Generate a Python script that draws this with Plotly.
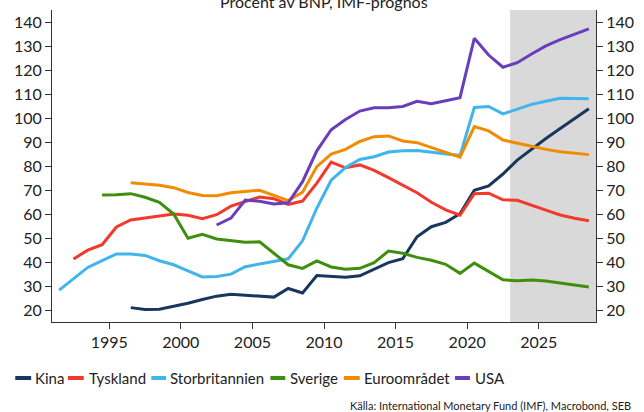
import plotly.graph_objects as go

# ---------------- data (percent of GDP, IMF forecast) ----------------
kina_start = 1996
kina = [21.0, 20.2, 20.3, 21.4, 22.8, 24.4, 25.8, 26.6, 26.2, 26.1,
        25.4, 29.0, 27.1, 34.4, 33.9, 33.7, 34.3, 36.9, 39.8, 41.4,
        50.6, 54.8, 56.6, 60.2, 70.0, 71.8, 76.8, 82.6, 87.2, 91.6,
        95.8, 100.0, 104.1]

tyskland_start = 1992
tyskland = [41.3, 45.0, 47.3, 54.7, 57.6, 58.6, 59.3, 60.1, 59.6, 58.1,
            59.8, 63.4, 65.2, 67.2, 66.5, 64.1, 65.5, 73.0, 81.8, 79.4,
            80.6, 78.3, 75.3, 72.0, 69.0, 65.0, 61.8, 59.6, 68.6, 68.8,
            66.0, 65.8, 63.9, 61.7, 59.7, 58.3, 57.3]

storbritannien_start = 1991
storbritannien = [28.3, 33.0, 37.8, 40.6, 43.4, 43.4, 42.8, 40.6, 38.9, 36.4,
                  33.8, 34.0, 35.0, 38.1, 39.2, 40.3, 41.4, 48.9, 62.6, 74.2,
                  79.5, 82.9, 84.0, 86.0, 86.5, 86.6, 85.9, 85.3, 84.5, 104.6,
                  105.0, 101.9, 104.0, 105.9, 107.2, 108.4, 108.3, 108.2]

sverige_start = 1994
sverige = [68.0, 68.1, 68.6, 67.1, 65.0, 60.1, 50.0, 51.6, 49.7, 49.1,
           48.3, 48.5, 43.8, 38.9, 37.4, 40.5, 38.0, 37.0, 37.4, 39.8,
           44.6, 43.7, 42.0, 40.8, 39.1, 35.3, 39.6, 36.0, 32.6, 32.2,
           32.5, 32.1, 31.3, 30.5, 29.6]

euro_start = 1996
euroomradet = [73.2, 72.6, 72.1, 71.1, 69.1, 67.8, 67.7, 69.0, 69.4, 70.0,
               67.9, 65.7, 69.2, 79.9, 85.1, 87.1, 90.4, 92.4, 92.7, 90.6,
               89.9, 87.8, 85.7, 83.8, 96.6, 94.8, 91.0, 89.6, 88.2, 87.1,
               86.1, 85.4, 84.9]

usa_start = 2002
usa = [55.5, 58.4, 65.9, 65.4, 64.3, 64.8, 73.6, 86.5, 95.3, 99.6,
       103.1, 104.5, 104.5, 105.0, 107.2, 106.2, 107.4, 108.7, 133.5, 126.5,
       121.4, 123.3, 126.9, 130.3, 132.9, 135.2, 137.4]

prognos_start = 2023
x_ticks = [1995, 2000, 2005, 2010, 2015, 2020, 2025]
y_ticks = [20, 30, 40, 50, 60, 70, 80, 90, 100, 110, 120, 130, 140]

series = [
    ("Kina", kina_start, kina, "#17375e"),
    ("Tyskland", tyskland_start, tyskland, "#f2392b"),
    ("Storbritannien", storbritannien_start, storbritannien, "#41b4ec"),
    ("Sverige", sverige_start, sverige, "#3f8f0c"),
    ("Euroområdet", euro_start, euroomradet, "#f18c00"),
    ("USA", usa_start, usa, "#6a3dbd"),
]

FONT = "Lato, Roboto, sans-serif"
W, H = 644, 412
L, R, T, B = 52, 44, 10, 90
PW, PH = W - L - R, H - T - B


def px2x(px):
    return (px - L) / PW


def py2y(py):
    return (H - B - py) / PH


fig = go.Figure()

# forecast shading
fig.add_vrect(x0=prognos_start, x1=2029, fillcolor="#d9d9d9", opacity=1,
              line_width=0, layer="below")

for name, start, vals, col in series:
    xs = [start + i + 0.5 for i in range(len(vals))]
    fig.add_trace(go.Scatter(x=xs, y=vals, mode="lines", name=name,
                             line=dict(color=col, width=3),
                             showlegend=False))

# invisible trace so the right axis is drawn
fig.add_trace(go.Scatter(x=[usa_start + 0.5], y=[usa[0]], mode="lines",
                         yaxis="y2", opacity=0, showlegend=False,
                         hoverinfo="skip"))

axis_common = dict(showgrid=False, zeroline=False, showline=True,
                   linecolor="#333333", linewidth=1, ticks="outside",
                   ticklen=6, tickcolor="#333333",
                   tickfont=dict(family=FONT, size=16, color="#222222"))

fig.update_layout(
    width=W, height=H,
    margin=dict(l=L, r=R, t=T, b=B),
    paper_bgcolor="white", plot_bgcolor="white",
    showlegend=False,
    xaxis=dict(range=[1991, 2029], tickvals=x_ticks, **axis_common),
    yaxis=dict(range=[15, 145.3], tickvals=y_ticks, **axis_common),
    yaxis2=dict(range=[15, 145.3], tickvals=y_ticks, overlaying="y",
                side="right", **axis_common),
)

# title (partly outside the page, as in the reference)
fig.add_annotation(text="Procent av BNP, IMF-prognos", xref="paper", yref="paper",
                   x=0.5, y=py2y(1), xanchor="center", yanchor="middle",
                   showarrow=False, font=dict(family=FONT, size=16, color="#222222"))

# manual legend
legend_pos = [(15, 31, 33), (68, 84, 87), (152, 167, 169),
              (272, 287, 290), (346, 362, 364), (458, 473, 476)]
ly = py2y(378)
for (name, _s, _v, col), (sx0, sx1, tx) in zip(series, legend_pos):
    fig.add_shape(type="line", xref="paper", yref="paper",
                  x0=px2x(sx0), x1=px2x(sx1), y0=ly, y1=ly,
                  line=dict(color=col, width=4))
    fig.add_annotation(text=name, xref="paper", yref="paper",
                       x=px2x(tx), y=ly, xanchor="left", yanchor="middle",
                       showarrow=False,
                       font=dict(family=FONT, size=15, color="#222222"))

fig.add_annotation(text="Källa: International Monetary Fund (IMF), Macrobond, SEB",
                   xref="paper", yref="paper", x=px2x(637), y=py2y(405),
                   xanchor="right", yanchor="middle", showarrow=False,
                   font=dict(family=FONT, size=11, color="#222222"))

fig.write_html("out.html",
               config={"displayModeBar": False},
               post_script="document.body.style.margin='0';"
                           "document.body.style.padding='0';")
